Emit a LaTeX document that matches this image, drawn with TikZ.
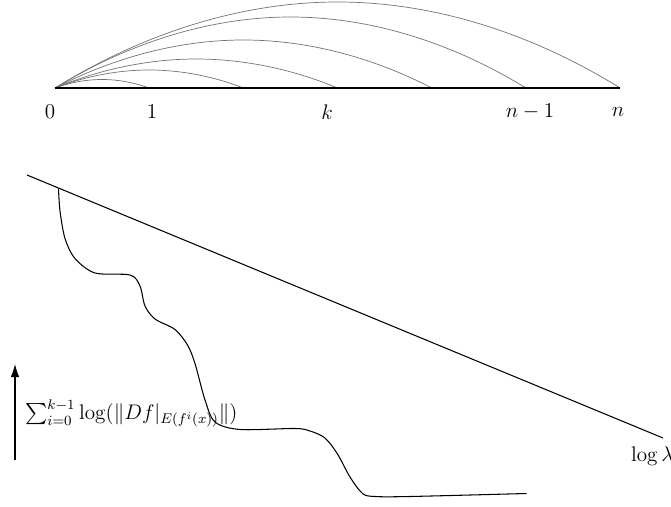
\documentclass[tikz,border=0pt]{standalone}
\usepackage{amsmath}
\usepackage{amssymb}
\usepackage{tikz}
\usetikzlibrary{arrows.meta}

\begin{document}
\begin{tikzpicture}[>={Latex[length=2.6mm,width=1.7mm]}, font=\large]
	\useasboundingbox (0,0) rectangle (13.42,10.12);
	% top: the intervals [0,k]
	\coordinate (o) at (1.1,8.36);
	\foreach \i in {1,...,6}
		\coordinate (e\i) at ({1.1+1.884*\i},8.36);
	\foreach \i/\h in {1/0.17,2/0.36,3/0.58,4/0.96,5/1.42,6/1.72}
		\draw[black!55] (o) parabola bend ({1.1+0.942*\i},{8.36+\h}) (e\i);
	\draw[thick] (o) -- (e6);
	\node (l0) at (1.0,7.88) {$0$};
	\node (l1) at (3.04,7.88) {$1$};
	\node (lk) at (6.54,7.88) {$k$};
	\node (ln1) at (10.6,7.88) {$n-1$};
	\node (ln) at (12.36,7.88) {$n$};
	% bottom: the sums against the line
	\coordinate (a) at (0.54,6.62);
	\coordinate (b) at (13.26,1.36);
	\draw[semithick] (a) -- (b);
	\node[right] (loglam) at (12.5,1.0) {$\log\lambda$};
	\draw[semithick] plot[smooth] coordinates {(1.17,6.35) (1.2,5.9) (1.3,5.35) (1.5,4.95) (1.9,4.66) (2.6,4.62) (2.8,4.4) (2.9,4.0) (3.1,3.74) (3.5,3.53) (3.75,3.22) (3.9,2.85) (4.1,2.12) (4.3,1.68) (4.8,1.53) (5.9,1.55) (6.2,1.5) (6.5,1.36) (6.75,1.04) (7.0,0.58) (7.25,0.25) (7.5,0.19) (8.2,0.19) (10.53,0.25)};
	\coordinate (s) at (0.3,0.92);
	\coordinate (t) at (0.3,2.84);
	\draw[semithick,->] (s) -- (t);
	\node[right] (sum) at (0.38,1.86) {$\sum_{i=0}^{k-1}\log(\|Df|_{E(f^i(x))}\|)$};
\end{tikzpicture}
\end{document}
